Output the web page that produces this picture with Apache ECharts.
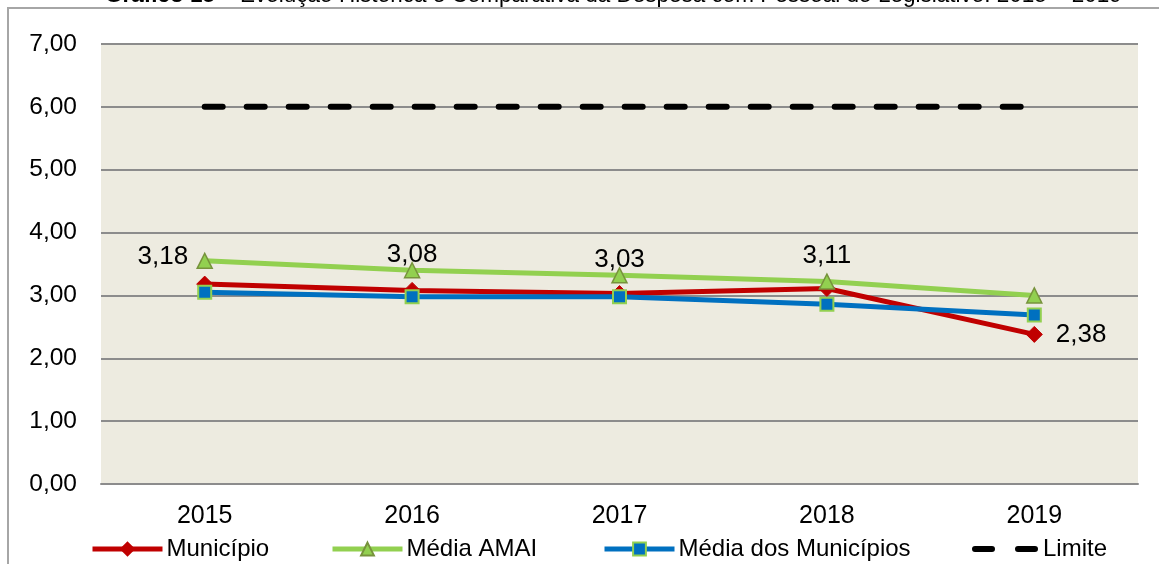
<!DOCTYPE html>
<html>
<head>
<meta charset="utf-8">
<script src="https://cdn.jsdelivr.net/npm/echarts@6/dist/echarts.min.js"></script>
<style>
  html, body { margin: 0; padding: 0; background: #ffffff; }
  #chart { width: 1159px; height: 564px; }
</style>
</head>
<body>
<div id="chart"></div>
<script>
// Despesa com pessoal do Legislativo (% da RCL), 2015–2019
const categories = ['2015', '2016', '2017', '2018', '2019'];
const municipio = [3.18, 3.08, 3.03, 3.11, 2.38];
const mediaAmai = [3.55, 3.40, 3.32, 3.22, 3.00];
const mediaMunicipios = [3.05, 2.98, 2.98, 2.86, 2.69];
const limite = [6, 6, 6, 6, 6];
const yTicks = { min: 0, max: 7, interval: 1 };

const FONT = 'Liberation Sans, Arial, sans-serif';
const fmt = v => v.toFixed(2).replace('.', ',');

// per-point label placement for the Município series
const labelPlacement = [
  { position: 'left', offset: [-3, -27] },
  { position: 'top', offset: [0, -9] },
  { position: 'top', offset: [0, -7] },
  { position: 'top', offset: [0, -6] },
  { position: 'right', offset: [8, 0] }
];

const chart = echarts.init(document.getElementById('chart'), null, { renderer: 'canvas' });

const legendBase = {
  top: 537,
  padding: 0,
  itemWidth: 70,
  itemHeight: 16,
  itemGap: 0,
  lineStyle: { width: 5 },
  textStyle: { fontFamily: FONT, fontSize: 24, color: '#000', padding: [0, 0, 0, -1] },
  selectedMode: false
};

// two rounded dashes for the limit legend entry
const dashIcon = 'path://M3,0 h17 a3,3 0 0 1 0,6 h-17 a3,3 0 0 1 0,-6 z M46,0 h17 a3,3 0 0 1 0,6 h-17 a3,3 0 0 1 0,-6 z';

chart.setOption({
  animation: false,
  backgroundColor: '#ffffff',
  grid: {
    left: 101, right: 21, top: 44, bottom: 80,
    show: true, backgroundColor: '#EDEBE0', borderWidth: 0
  },
  graphic: [
    {
      type: 'rect',
      shape: { x: 8, y: 8, width: 1200, height: 600 },
      style: { fill: 'none', stroke: '#A6A6A6', lineWidth: 2 },
      z: 0, silent: true
    },
    {
      type: 'text',
      left: 105,
      top: -16,
      style: {
        rich: {
          b: { fontFamily: FONT, fontSize: 22.5, fontWeight: 'bold', fill: '#000' },
          n: { fontFamily: FONT, fontSize: 22.5, fill: '#000' }
        },
        text: '{b|Gráfico 15}{n| – Evolução Histórica e Comparativa da Despesa com Pessoal do Legislativo: 2015 – 2019}'
      },
      silent: true
    }
  ],
  legend: [
    Object.assign({}, legendBase, { left: 90, data: ['Município'] }),
    Object.assign({}, legendBase, { left: 330, data: ['Média AMAI'] }),
    Object.assign({}, legendBase, { left: 602, data: ['Média dos Municípios'] }),
    Object.assign({}, legendBase, {
      left: 972, itemWidth: 68, itemHeight: 6,
      data: [{ name: 'Limite', icon: dashIcon, itemStyle: { color: '#000' } }]
    })
  ],
  xAxis: {
    type: 'category',
    data: categories,
    boundaryGap: true,
    axisLine: { show: true, lineStyle: { color: '#8C8C8C', width: 2 } },
    axisTick: { show: false },
    axisLabel: { fontFamily: FONT, fontSize: 25, color: '#000', margin: 20 }
  },
  yAxis: {
    type: 'value',
    min: yTicks.min, max: yTicks.max, interval: yTicks.interval,
    axisLine: { show: false },
    axisTick: { show: false },
    axisLabel: { fontFamily: FONT, fontSize: 24.5, color: '#000', margin: 24, formatter: fmt },
    splitLine: { lineStyle: { color: '#8C8C8C', width: 2 } }
  },
  series: [
    {
      name: 'Município',
      type: 'line',
      data: municipio.map((v, i) => ({
        value: v,
        label: Object.assign({ show: true }, labelPlacement[i])
      })),
      symbol: 'diamond',
      symbolSize: 16,
      lineStyle: { color: '#C00000', width: 5 },
      itemStyle: { color: '#C00000', borderColor: '#C00000', borderWidth: 1 },
      label: {
        fontFamily: FONT, fontSize: 26, color: '#000',
        formatter: p => fmt(p.value)
      }
    },
    {
      name: 'Média AMAI',
      type: 'line',
      data: mediaAmai,
      symbol: 'triangle',
      symbolSize: 15,
      lineStyle: { color: '#92D050', width: 5 },
      itemStyle: { color: '#92D050', borderColor: '#77933C', borderWidth: 1.5 }
    },
    {
      name: 'Média dos Municípios',
      type: 'line',
      data: mediaMunicipios,
      symbol: 'rect',
      symbolSize: 13,
      lineStyle: { color: '#0070C0', width: 5 },
      itemStyle: { color: '#0070C0', borderColor: '#92D050', borderWidth: 2 }
    },
    {
      name: 'Limite',
      type: 'line',
      data: limite,
      symbol: 'none',
      lineStyle: { color: '#000', width: 6, type: [18, 24], cap: 'round' },
      itemStyle: { color: '#000' }
    }
  ]
});
</script>
</body>
</html>
